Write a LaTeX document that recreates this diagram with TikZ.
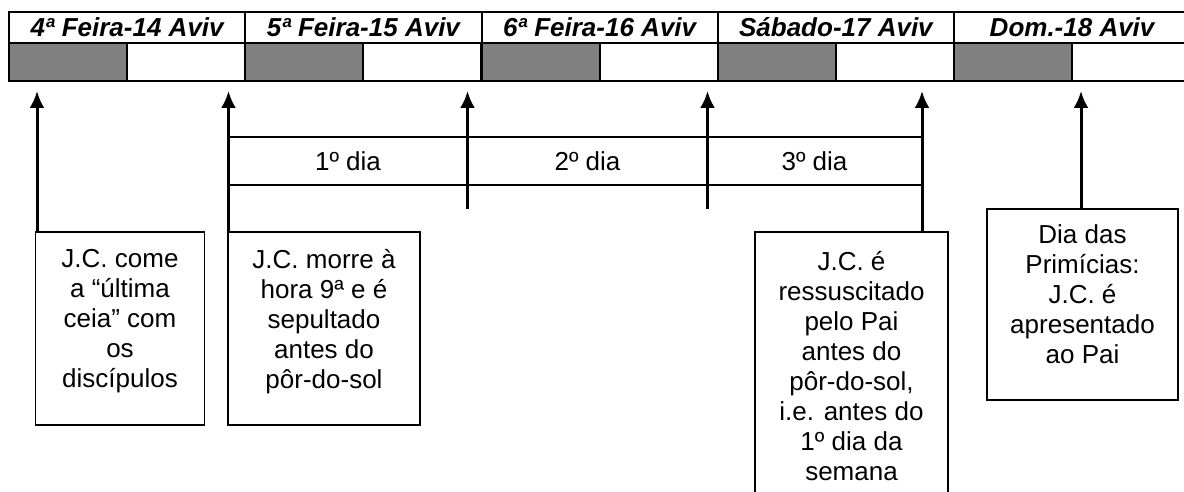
\documentclass[tikz,border=0pt]{standalone}
\usepackage{fontspec}
\setmainfont{Liberation Sans}
\usetikzlibrary{arrows.meta,positioning}

\begin{document}
\begin{tikzpicture}[>={Latex[length=8.5pt,width=7.5pt]},x=0.5pt,y=-0.5pt]
 \tikzstyle{every node}=[font=\fontsize{13}{15}\selectfont]
 \tikzstyle{dayname}=[draw,line width=1pt,minimum width=118.1pt,minimum height=15.8pt,inner sep=0pt,font=\fontsize{13}{15}\selectfont\bfseries\itshape]
 \tikzstyle{dark}=[draw,line width=1pt,fill=black!50,minimum width=59.05pt,minimum height=18.85pt,inner sep=0pt]
 \tikzstyle{light}=[draw,line width=1pt,fill=white,minimum width=59.05pt,minimum height=18.85pt,inner sep=0pt]
 \tikzstyle{note}=[draw,line width=0.8pt,inner sep=0pt]
 \tikzstyle{notetext}=[align=center,inner sep=0pt]
 \tikzstyle{up}=[->,line width=1.5pt]
 \clip (0,0) rectangle (1184,492);

 \node (d14) at (127.1,27.5) [dayname] {4ª Feira-14 Aviv};
 \node (d15) at (363.4,27.5) [dayname] {5ª Feira-15 Aviv};
 \node (d16) at (599.6,27.5) [dayname] {6ª Feira-16 Aviv};
 \node (d17) at (835.9,27.5) [dayname] {Sábado-17 Aviv};
 \node (d18) at (1072.1,27.5) [dayname] {Dom.-18 Aviv};

 \node (n14) at (68.1,62.2) [dark] {};   \node (l14) at (186.2,62.2) [light] {};
 \node (n15) at (304.3,62.2) [dark] {};  \node (l15) at (422.4,62.2) [light] {};
 \node (n16) at (540.6,62.2) [dark] {};  \node (l16) at (658.7,62.2) [light] {};
 \node (n17) at (776.8,62.2) [dark] {};  \node (l17) at (894.9,62.2) [light] {};
 \node (n18) at (1013.1,62.2) [dark] {}; \node (l18) at (1131.2,62.2) [light] {};

 % arrow tips under the table
 \coordinate (t1) at (37,91);
 \coordinate (t2) at (228.5,91);
 \coordinate (t3) at (467.5,91);
 \coordinate (t4) at (707.5,91);
 \coordinate (t5) at (922,91);
 \coordinate (t6) at (1081,91);
 \coordinate (e3) at (467.5,209);
 \coordinate (e4) at (707.5,209);
 \coordinate (upper) at (0,137);
 \coordinate (lower) at (0,185);

 \node (box1) at (120,328.5) [note,minimum width=84.5pt,minimum height=96.5pt] {};
 \node (box2) at (324,328.5) [note,minimum width=96pt,minimum height=96.5pt] {};
 \node (box5) at (851.5,370) [note,minimum width=96.5pt,minimum height=138pt] {};
 \node (box6) at (1082.5,304.5) [note,minimum width=95.5pt,minimum height=95.5pt] {};

 \node (txt1) [notetext,below=9pt of box1.north] {J.C. come\\a “última\\ceia” com\\os\\discípulos};
 \node (txt2) [notetext,below=9pt of box2.north] {J.C. morre à\\hora 9ª e é\\sepultado\\antes do\\pôr-do-sol};
 \node (txt5) [notetext,below=10pt of box5.north] {J.C. é\\ressuscitado\\pelo Pai\\antes do\\pôr-do-sol,\\i.e. antes do\\1º dia da\\semana};
 \node (txt6) [notetext,below=8pt of box6.north] {Dia das\\Primícias:\\J.C. é\\apresentado\\ao Pai};

 \draw [up] (t1 |- box1.north) -- (t1);
 \draw [up] (t2 |- box2.north) -- (t2);
 \draw [up] (e3) -- (t3);
 \draw [up] (e4) -- (t4);
 \draw [up] (t5 |- box5.north) -- (t5);
 \draw [up] (box6.north -| t6) -- (t6);

 \draw [line width=0.7pt] (t2 |- upper) -- (t5 |- upper);
 \draw [line width=0.7pt] (t2 |- lower) -- (t5 |- lower);
 \node (dia1) at (348,161) {1º dia};
 \node (dia2) at (587.5,161) {2º dia};
 \node (dia3) at (814.5,161) {3º dia};
\end{tikzpicture}
\end{document}
